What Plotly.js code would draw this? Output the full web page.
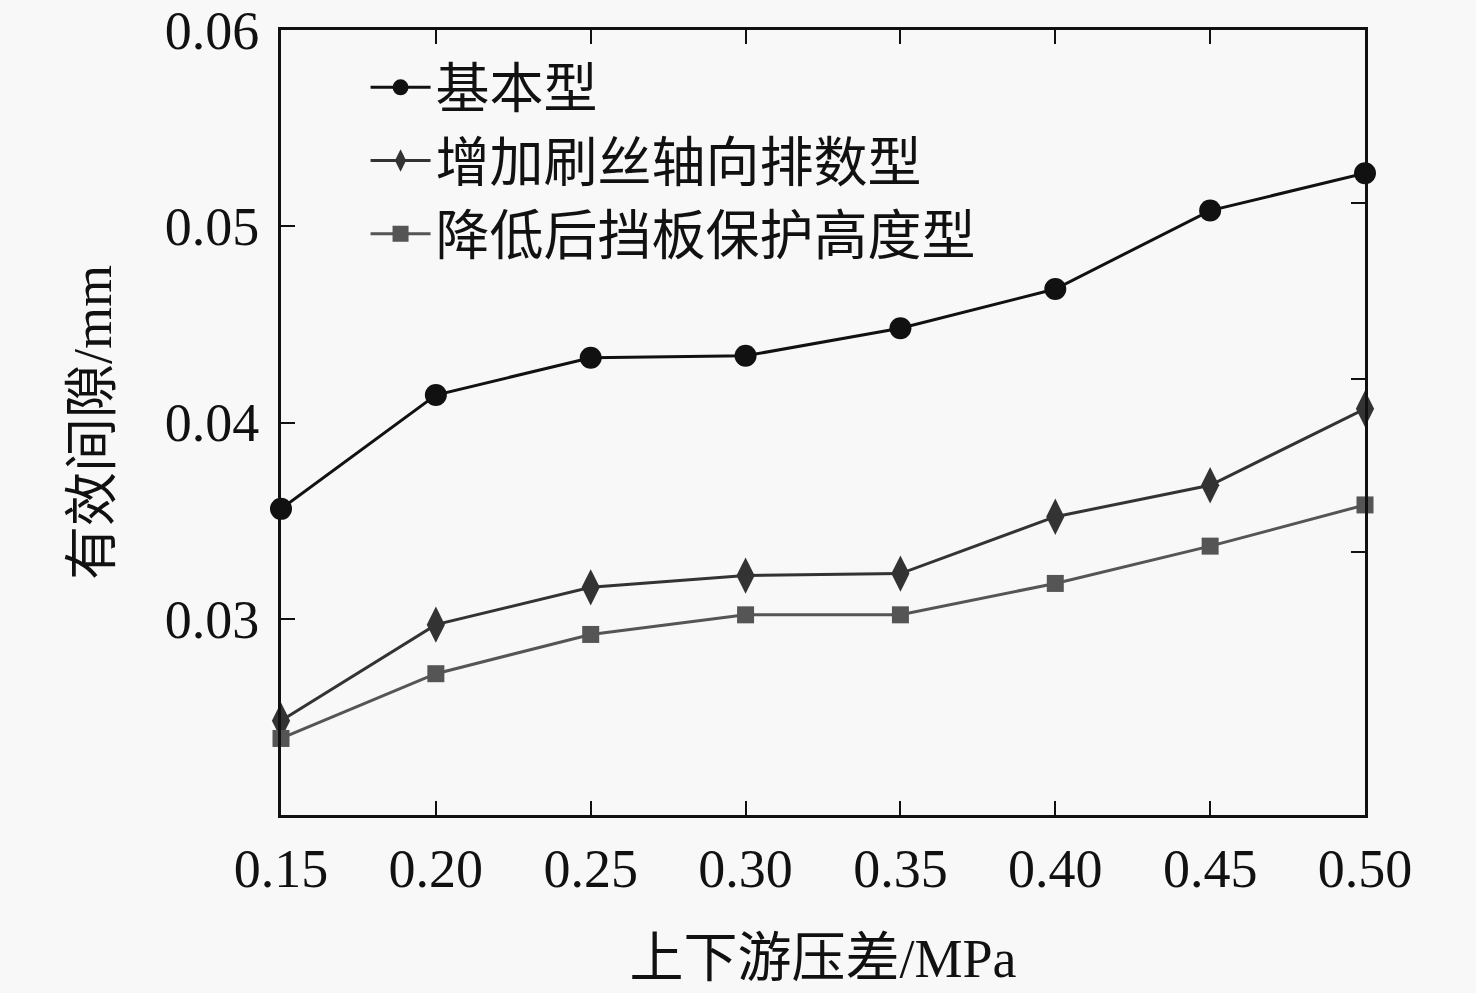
<!DOCTYPE html>
<html>
<head>
<meta charset="utf-8">
<script src="https://cdn.plot.ly/plotly-3.0.1.min.js"></script>
<style>
  html, body { margin: 0; padding: 0; background: #f8f8f8; }
  #chart { width: 1476px; height: 993px; }
</style>
</head>
<body>
<div id="chart"></div>
<script>
// 上下游压差 (MPa)
var pressure = [0.15, 0.20, 0.25, 0.30, 0.35, 0.40, 0.45, 0.50];
// 有效间隙 (mm)
var basic = [0.0356, 0.0414, 0.0433, 0.0434, 0.0448, 0.0468, 0.0508, 0.0527];
var moreRows = [0.0248, 0.0297, 0.0316, 0.0322, 0.0323, 0.0352, 0.0368, 0.0407];
var lowerPlate = [0.0239, 0.0272, 0.0292, 0.0302, 0.0302, 0.0318, 0.0337, 0.0358];

var names = ['基本型', '增加刷丝轴向排数型', '降低后挡板保护高度型'];
var xTicks = [0.15, 0.20, 0.25, 0.30, 0.35, 0.40, 0.45, 0.50];
var xTickText = ['0.15', '0.20', '0.25', '0.30', '0.35', '0.40', '0.45', '0.50'];
var yTicks = [0.03, 0.04, 0.05, 0.06];
var yTickText = ['0.03', '0.04', '0.05', '0.06'];
// the right frame carries its own unlabeled ticks
var rightTicks = [0.0334, 0.0422, 0.0512];

var font = 'Liberation Serif, Times New Roman, Noto Sans CJK SC, serif';

var trace_basic = {
  x: pressure, y: basic, name: names[0],
  mode: 'lines+markers', type: 'scatter', cliponaxis: false,
  line: {color: '#111111', width: 3},
  marker: {symbol: 'circle', size: 22, color: '#111111'}
};
var trace_rows = {
  x: pressure, y: moreRows, name: names[1],
  mode: 'lines+markers', type: 'scatter', cliponaxis: false,
  line: {color: '#333333', width: 3},
  marker: {symbol: 'diamond-tall', size: 26, color: '#333333'}
};
var trace_plate = {
  x: pressure, y: lowerPlate, name: names[2],
  mode: 'lines+markers', type: 'scatter', cliponaxis: false,
  line: {color: '#555555', width: 3},
  marker: {symbol: 'square', size: 17, color: '#555555'}
};
var trace_dummy = {
  x: [pressure[0]], y: [basic[0]], yaxis: 'y2',
  mode: 'markers', type: 'scatter', showlegend: false,
  hoverinfo: 'skip', marker: {opacity: 0}
};

var data = [trace_basic, trace_rows, trace_plate, trace_dummy];

var layout = {
  width: 1476, height: 993,
  paper_bgcolor: '#f8f8f8', plot_bgcolor: '#f8f8f8',
  margin: {l: 281, r: 111, t: 30, b: 178},
  font: {family: font, color: '#111111', size: 54},
  showlegend: true,
  legend: {
    x: 0.078, y: 0.98, xanchor: 'left', yanchor: 'top',
    bgcolor: 'rgba(0,0,0,0)', borderwidth: 0,
    font: {family: font, size: 54, color: '#111111'},
    itemwidth: 60, tracegroupgap: 0
  },
  xaxis: {
    range: [0.15, 0.50],
    tickvals: xTicks, ticktext: xTickText,
    ticks: 'inside', ticklen: 14, tickwidth: 2, tickcolor: '#111111',
    showline: true, linewidth: 3, linecolor: '#111111', mirror: 'ticks',
    showgrid: false, zeroline: false,
    tickfont: {family: font, size: 54},
    ticklabelstandoff: 4, ticklabeloverflow: 'allow',
    title: {text: '上下游压差/MPa', font: {family: font, size: 54}, standoff: 42}
  },
  yaxis: {
    range: [0.02, 0.060001],
    tickvals: yTicks, ticktext: yTickText,
    ticks: 'inside', ticklen: 14, tickwidth: 2, tickcolor: '#111111',
    showline: true, linewidth: 3, linecolor: '#111111', mirror: true,
    showgrid: false, zeroline: false,
    tickfont: {family: font, size: 54},
    ticklabelstandoff: 8, ticklabeloverflow: 'allow',
    title: {text: '有效间隙/mm', font: {family: font, size: 54}, standoff: 36}
  },
  yaxis2: {
    range: [0.02, 0.060001], overlaying: 'y', side: 'right',
    tickvals: rightTicks, showticklabels: false,
    ticks: 'inside', ticklen: 14, tickwidth: 2, tickcolor: '#111111',
    showline: false, showgrid: false, zeroline: false
  }
};

Plotly.newPlot('chart', data, layout, {displayModeBar: false, staticPlot: true});
</script>
</body>
</html>
